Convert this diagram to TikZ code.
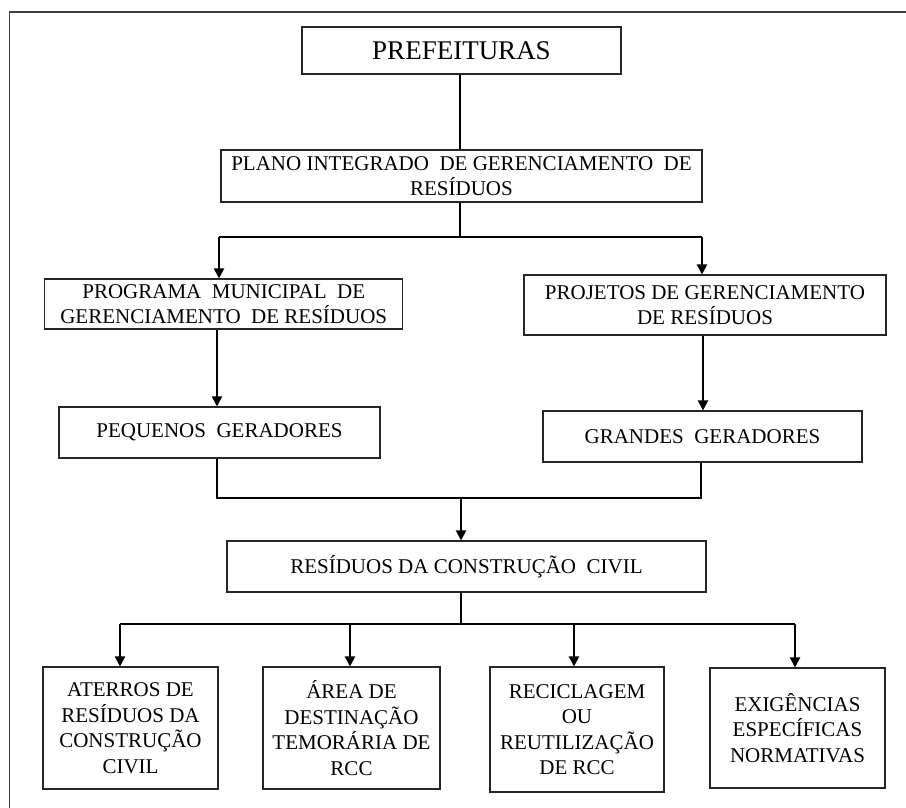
\documentclass[tikz,border=0pt]{standalone}
\usepackage{fontspec}
\setmainfont{Liberation Serif}
\usetikzlibrary{arrows.meta}
\begin{document}
\begin{tikzpicture}[x=1pt,y=-1pt,
  box/.style={draw=black!85,line width=1.1pt,align=center,inner sep=0pt,
    font=\fontsize{21}{25.5}\selectfont},
  conn/.style={line width=2pt,black},
  arr/.style={conn,-{Triangle[length=10pt,width=10pt]}}]
\useasboundingbox (0,0) rectangle (906,808);
\fill[white] (0,0) rectangle (906,808);
% outer frame (only left and top edges visible)
\draw[black!75,line width=1.3pt] (9.5,808) -- (9.5,12) -- (906,12);
% boxes
\node[box,minimum width=319pt,minimum height=47pt,font=\fontsize{27}{30}\selectfont] (pref) at (461.5,50.5) {PREFEITURAS};
\node[box,minimum width=481pt,minimum height=52pt] (plano) at (461.5,176) {PLANO INTEGRADO\ \ DE GERENCIAMENTO\ \ DE\\RESÍDUOS};
\node[box,minimum width=358pt,minimum height=50pt] (prog) at (223.75,304) {PROGRAMA\ \ MUNICIPAL\ \ DE\\GERENCIAMENTO\ \ DE RESÍDUOS};
\node[box,minimum width=362pt,minimum height=60pt] (proj) at (705,305) {PROJETOS DE GERENCIAMENTO\\DE RESÍDUOS};
\node[box,minimum width=321pt,minimum height=51pt] (peq) at (219.5,432.5) {PEQUENOS\ \ GERADORES};
\node[box,minimum width=319pt,minimum height=51pt] (gra) at (702.5,436.5) {GRANDES\ \ GERADORES};
\node[box,minimum width=479pt,minimum height=51pt] (rcc) at (466.5,566.5) {RESÍDUOS DA CONSTRUÇÃO\ \ CIVIL};
\node[box,minimum width=175pt,minimum height=122pt] (b1) at (130.5,728) {ATERROS DE\\RESÍDUOS DA\\CONSTRUÇÃO\\CIVIL};
\node[box,minimum width=177pt,minimum height=122pt] (b2) at (351.5,728) {ÁREA DE\\DESTINAÇÃO\\TEMORÁRIA DE\\RCC};
\node[box,minimum width=174pt,minimum height=125pt] (b3) at (577,729.5) {RECICLAGEM\\OU\\REUTILIZAÇÃO\\DE RCC};
\node[box,minimum width=175pt,minimum height=120pt] (b4) at (797.5,728) {EXIGÊNCIAS\\ESPECÍFICAS\\NORMATIVAS};
% junction coordinates
\coordinate (t0) at (460,0);
\coordinate (ja) at (219,237);
\coordinate (jm) at (460,237);
\coordinate (jb) at (702,237);
\coordinate (pa) at (217,0);
\coordinate (pb) at (703,0);
\coordinate (ma) at (217,498);
\coordinate (mm) at (461,498);
\coordinate (mb) at (701,498);
\coordinate (r0) at (461,624);
\coordinate (q1) at (120,624);
\coordinate (q2) at (350,624);
\coordinate (q3) at (574,624);
\coordinate (q4) at (795,624);
% connectors
\draw[conn] (t0 |- pref.south) -- (t0 |- plano.north);
\draw[conn] (jm |- plano.south) -- (jm);
\draw[conn] (ja) -- (jb);
\draw[arr] (ja) -- (ja |- prog.north);
\draw[arr] (jb) -- (jb |- proj.north);
\draw[arr] (pa |- prog.south) -- (pa |- peq.north);
\draw[arr] (pb |- proj.south) -- (pb |- gra.north);
\draw[conn] (ma |- peq.south) -- (ma) -- (mb) -- (mb |- gra.south);
\draw[arr] (mm) -- (mm |- rcc.north);
\draw[conn] (r0 |- rcc.south) -- (r0);
\draw[conn] (q1) -- (q4);
\draw[arr] (q1) -- (q1 |- b1.north);
\draw[arr] (q2) -- (q2 |- b2.north);
\draw[arr] (q3) -- (q3 |- b3.north);
\draw[arr] (q4) -- (q4 |- b4.north);
\end{tikzpicture}
\end{document}
